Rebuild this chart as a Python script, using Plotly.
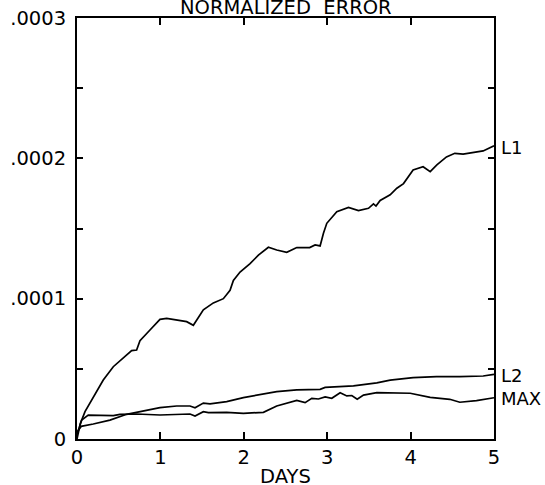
import plotly.graph_objects as go

SCALE = 1e-4  # values below are read in units of 1e-4

L1_days = [0, 0.04, 0.096, 0.196, 0.315, 0.435, 0.555, 0.655, 0.715, 0.755, 0.875, 0.995,
           1.075, 1.195, 1.315, 1.395, 1.455, 1.515, 1.635, 1.755, 1.835, 1.875, 1.955,
           2.075, 2.175, 2.295, 2.395, 2.515, 2.635, 2.79, 2.855, 2.915, 2.955, 2.995,
           3.115, 3.255, 3.375, 3.495, 3.555, 3.585, 3.635, 3.755, 3.835, 3.915, 4.03,
           4.15, 4.235, 4.315, 4.43, 4.53, 4.63, 4.75, 4.87, 5.0]
L1_err = [0.0, 0.11, 0.195, 0.30, 0.42, 0.515, 0.575, 0.63, 0.634, 0.70, 0.777, 0.853,
          0.86, 0.848, 0.836, 0.81, 0.87, 0.92, 0.97, 1.00, 1.06, 1.13, 1.19,
          1.25, 1.31, 1.366, 1.347, 1.33, 1.364, 1.364, 1.383, 1.376, 1.466, 1.537,
          1.62, 1.65, 1.627, 1.644, 1.675, 1.66, 1.70, 1.74, 1.787, 1.82, 1.917,
          1.94, 1.905, 1.953, 2.01, 2.036, 2.03, 2.043, 2.053, 2.09]

L2_days = [0, 0.05, 0.195, 0.395, 0.595, 0.795, 0.995, 1.195, 1.355, 1.415, 1.515, 1.595,
           1.795, 1.995, 2.195, 2.395, 2.635, 2.915, 2.975, 3.315, 3.595, 3.755, 4.03,
           4.31, 4.59, 4.87, 5.0]
L2_err = [0.05, 0.09, 0.107, 0.135, 0.176, 0.20, 0.223, 0.235, 0.235, 0.223, 0.256, 0.25,
          0.266, 0.295, 0.318, 0.337, 0.35, 0.354, 0.368, 0.378, 0.40, 0.42, 0.437,
          0.444, 0.444, 0.449, 0.46]

MAX_days = [0, 0.056, 0.135, 0.175, 0.236, 0.315, 0.435, 0.515, 0.715, 0.995, 1.195, 1.355,
            1.415, 1.515, 1.575, 1.795, 1.995, 2.235, 2.395, 2.555, 2.635, 2.735, 2.815,
            2.895, 2.975, 3.055, 3.155, 3.235, 3.295, 3.36, 3.435, 3.595, 3.795, 3.995,
            4.235, 4.47, 4.59, 4.79, 5.0]
MAX_err = [0.03, 0.135, 0.17, 0.17, 0.166, 0.171, 0.166, 0.176, 0.178, 0.171, 0.176, 0.178,
           0.164, 0.195, 0.188, 0.19, 0.183, 0.19, 0.235, 0.259, 0.275, 0.259, 0.29,
           0.285, 0.30, 0.29, 0.33, 0.307, 0.31, 0.283, 0.313, 0.33, 0.326, 0.326,
           0.297, 0.283, 0.262, 0.273, 0.294]

series = [("L1", L1_days, L1_err, 2.074),
          ("L2", L2_days, L2_err, 0.450),
          ("MAX", MAX_days, MAX_err, 0.290)]

x_ticks = [0, 1, 2, 3, 4, 5]
y_tickvals = [0, 0.5, 1, 1.5, 2, 2.5, 3]
y_ticktext = ["0", "", ".0001", "", ".0002", "", ".0003"]

FONT = "DejaVu Sans"
FS = 19.5
LFS = 18

fig = go.Figure()
for name, d, e, _ in series:
    fig.add_trace(go.Scatter(x=d, y=[v * SCALE for v in e], mode="lines", name=name,
                             line=dict(color="black", width=1.7), showlegend=False))

annotations = []
for name, d, e, ly in series:
    annotations.append(dict(x=5, y=ly * SCALE, xref="x", yref="y", text=name,
                            showarrow=False, xanchor="left", yanchor="middle", xshift=6,
                            borderpad=0,
                            font=dict(family=FONT, size=LFS, color="black")))
annotations.append(dict(x=0.5, y=1, xref="paper", yref="paper", text="NORMALIZED  ERROR",
                        showarrow=False, xanchor="center", yanchor="middle", yshift=11,
                        font=dict(family=FONT, size=FS, color="black")))
annotations.append(dict(x=0.5, y=0, xref="paper", yref="paper", text="DAYS",
                        showarrow=False, xanchor="center", yanchor="middle", yshift=-37,
                        font=dict(family=FONT, size=FS, color="black")))

fig.update_layout(
    width=545, height=485,
    margin=dict(l=77, r=51, t=18, b=46, autoexpand=False),
    paper_bgcolor="white", plot_bgcolor="white",
    font=dict(family=FONT, size=FS, color="black"),
    annotations=annotations,
)
fig.update_xaxes(range=[0, 5], tickvals=x_ticks, ticks="inside", ticklen=7, tickwidth=1.5,
                 tickcolor="black", showline=True, linecolor="black", linewidth=2,
                 mirror="ticks", showgrid=False, zeroline=False, automargin=False)
fig.update_yaxes(range=[0, 3 * SCALE], tickvals=[v * SCALE for v in y_tickvals],
                 ticktext=y_ticktext, ticks="inside", ticklen=6, tickwidth=1.5,
                 tickcolor="black", showline=True, linecolor="black", linewidth=2,
                 mirror="ticks", showgrid=False, zeroline=False, ticklabelstandoff=5,
                 automargin=False)

fig.write_html("out.html")
